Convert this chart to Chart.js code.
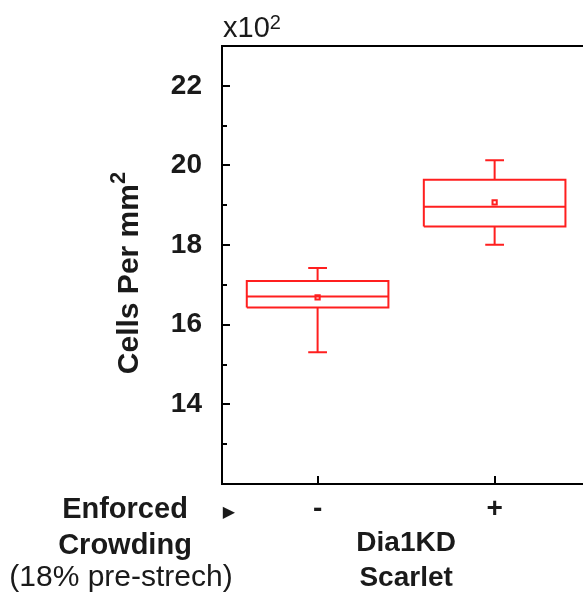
<!DOCTYPE html>
<html><head><meta charset="utf-8">
<script src="https://cdn.jsdelivr.net/npm/chart.js@4"></script>
<style>
html,body{margin:0;padding:0;overflow:hidden;background:#fff;width:583px;height:596px}
#wrap{position:absolute;left:0;top:0;width:598px;height:596px}
</style>
</head><body>
<div id="wrap"><canvas id="c"></canvas></div>
<script>
// ---- data ----
const categories = ['-', '+'];
const positions = [0, 1];
const whiskerLow  = [15.31, 18.01];
const q1          = [16.43, 18.47];
const median      = [16.71, 18.96];
const mean        = [16.685, 19.07];
const q3          = [17.10, 19.64];
const whiskerHigh = [17.425, 20.13];
const yMajorTicks = [14, 16, 18, 20, 22];
const yMinorTicks = [13, 15, 17, 19, 21];
const yRange = [12, 23];
const xRange = [-0.54, 1.55];
const yTitle = 'Cells Per mm';
const yTitleSup = '2';
const multiplier = 'x10';
const multiplierSup = '2';
const rowLabel = ['Enforced', 'Crowding', '(18% pre-strech)'];
const groupLabel = ['Dia1KD', 'Scarlet'];

const RED = '#ff1f1f';
const BOX_HALF = 0.4, CAP_HALF = 0.053;
const GAP = {x: NaN, y: null};

// build datasets from the arrays
const boxPts = [], medPts = [], whiskPts = [], capPts = [], meanPts = [];
positions.forEach((x, i) => {
  boxPts.push({x: x - BOX_HALF, y: q1[i]}, {x: x + BOX_HALF, y: q1[i]},
              {x: x + BOX_HALF, y: q3[i]}, {x: x - BOX_HALF, y: q3[i]},
              {x: x - BOX_HALF, y: q1[i]}, GAP);
  medPts.push({x: x - BOX_HALF, y: median[i]}, {x: x + BOX_HALF, y: median[i]}, GAP);
  whiskPts.push({x: x, y: q3[i]}, {x: x, y: whiskerHigh[i]}, GAP,
                {x: x, y: q1[i]}, {x: x, y: whiskerLow[i]}, GAP);
  capPts.push({x: x - CAP_HALF, y: whiskerHigh[i]}, {x: x + CAP_HALF, y: whiskerHigh[i]}, GAP,
              {x: x - CAP_HALF, y: whiskerLow[i]}, {x: x + CAP_HALF, y: whiskerLow[i]}, GAP);
  meanPts.push({x: x, y: mean[i]});
});
const lineDs = (data) => ({data, showLine: true, spanGaps: false, borderColor: RED,
  borderWidth: 2, pointRadius: 0, fill: false, tension: 0});

const FONT = '"Liberation Sans", Arial, sans-serif';

const decor = {
  id: 'decor',
  afterDraw(chart) {
    const ctx = chart.ctx, a = chart.chartArea;
    const ys = chart.scales.y, xs = chart.scales.x;
    ctx.save();
    ctx.strokeStyle = '#000';
    ctx.lineWidth = 2;
    // frame top and right
    ctx.beginPath();
    ctx.moveTo(a.left - 1, a.top); ctx.lineTo(a.right, a.top); ctx.lineTo(a.right, a.bottom);
    ctx.stroke();
    // inward ticks
    ctx.beginPath();
    yMajorTicks.forEach(v => { const y = Math.round(ys.getPixelForValue(v)); ctx.moveTo(a.left, y); ctx.lineTo(a.left + 8, y); });
    yMinorTicks.forEach(v => { const y = Math.round(ys.getPixelForValue(v)); ctx.moveTo(a.left, y); ctx.lineTo(a.left + 5, y); });
    positions.forEach(v => { const x = Math.round(xs.getPixelForValue(v)); ctx.moveTo(x, a.bottom); ctx.lineTo(x, a.bottom - 8); });
    ctx.stroke();

    ctx.fillStyle = '#1a1a1a';
    // multiplier
    ctx.textBaseline = 'alphabetic';
    ctx.textAlign = 'left';
    ctx.font = '29px ' + FONT;
    ctx.fillText(multiplier, a.left + 1, 37);
    const mw = ctx.measureText(multiplier).width;
    ctx.font = '20px ' + FONT;
    ctx.fillText(multiplierSup, a.left + 1 + mw, 29);

    // y title rotated
    ctx.save();
    ctx.translate(138, 273);
    ctx.rotate(-Math.PI / 2);
    ctx.font = 'bold 30px ' + FONT;
    const tw = ctx.measureText(yTitle).width;
    ctx.font = 'bold 22px ' + FONT;
    const sw = ctx.measureText(yTitleSup).width;
    const total = tw + sw;
    ctx.font = 'bold 30px ' + FONT;
    ctx.fillText(yTitle, -total / 2, 0);
    ctx.font = 'bold 22px ' + FONT;
    ctx.fillText(yTitleSup, -total / 2 + tw, -13);
    ctx.restore();

    // row label at bottom left
    ctx.textAlign = 'center';
    ctx.font = 'bold 29px ' + FONT;
    ctx.fillText(rowLabel[0], 125, 518);
    ctx.fillText(rowLabel[1], 125, 554);
    ctx.font = '30px ' + FONT;
    ctx.fillText(rowLabel[2], 121, 586);
    // arrow
    ctx.font = '16px "DejaVu Sans", sans-serif';
    ctx.fillText('\u25B6', 229, 517);
    // group label
    ctx.font = 'bold 28px ' + FONT;
    const gx = (xs.getPixelForValue(positions[0]) + xs.getPixelForValue(positions[1])) / 2;
    ctx.fillText(groupLabel[0], gx, 551);
    ctx.fillText(groupLabel[1], gx, 586);
    ctx.restore();
  }
};

new Chart(document.getElementById('c'), {
  type: 'scatter',
  data: {
    datasets: [
      lineDs(boxPts), lineDs(medPts), lineDs(whiskPts), lineDs(capPts),
      {data: meanPts, showLine: false, pointStyle: 'rect', pointRadius: 3,
       pointBorderWidth: 2, borderColor: RED, backgroundColor: '#fff',
       pointBackgroundColor: '#fff', pointBorderColor: RED}
    ]
  },
  options: {
    responsive: true, maintainAspectRatio: false, animation: false,
    layout: {padding: {top: 46, right: 0, left: 0, bottom: 0}},
    plugins: {legend: {display: false}, tooltip: {enabled: false}},
    scales: {
      x: {
        type: 'linear', min: xRange[0], max: xRange[1],
        afterBuildTicks: s => { s.ticks = positions.map(v => ({value: v})); },
        afterFit: s => { s.height = 112; },
        grid: {display: false, drawTicks: false},
        border: {display: true, color: '#000', width: 2},
        ticks: {
          callback: (v, i) => categories[i],
          color: '#1a1a1a', font: {family: FONT, size: 28, weight: 'bold'},
          padding: 8, maxRotation: 0, autoSkip: false
        }
      },
      y: {
        min: yRange[0], max: yRange[1],
        afterBuildTicks: s => { s.ticks = yMajorTicks.map(v => ({value: v})); },
        afterFit: s => { s.width = 222; },
        grid: {display: false, drawTicks: false},
        border: {display: true, color: '#000', width: 2},
        ticks: {
          color: '#1a1a1a', font: {family: FONT, size: 28, weight: 'bold'},
          padding: 20, callback: v => String(v)
        }
      }
    }
  },
  plugins: [decor]
});
</script>
</body></html>
